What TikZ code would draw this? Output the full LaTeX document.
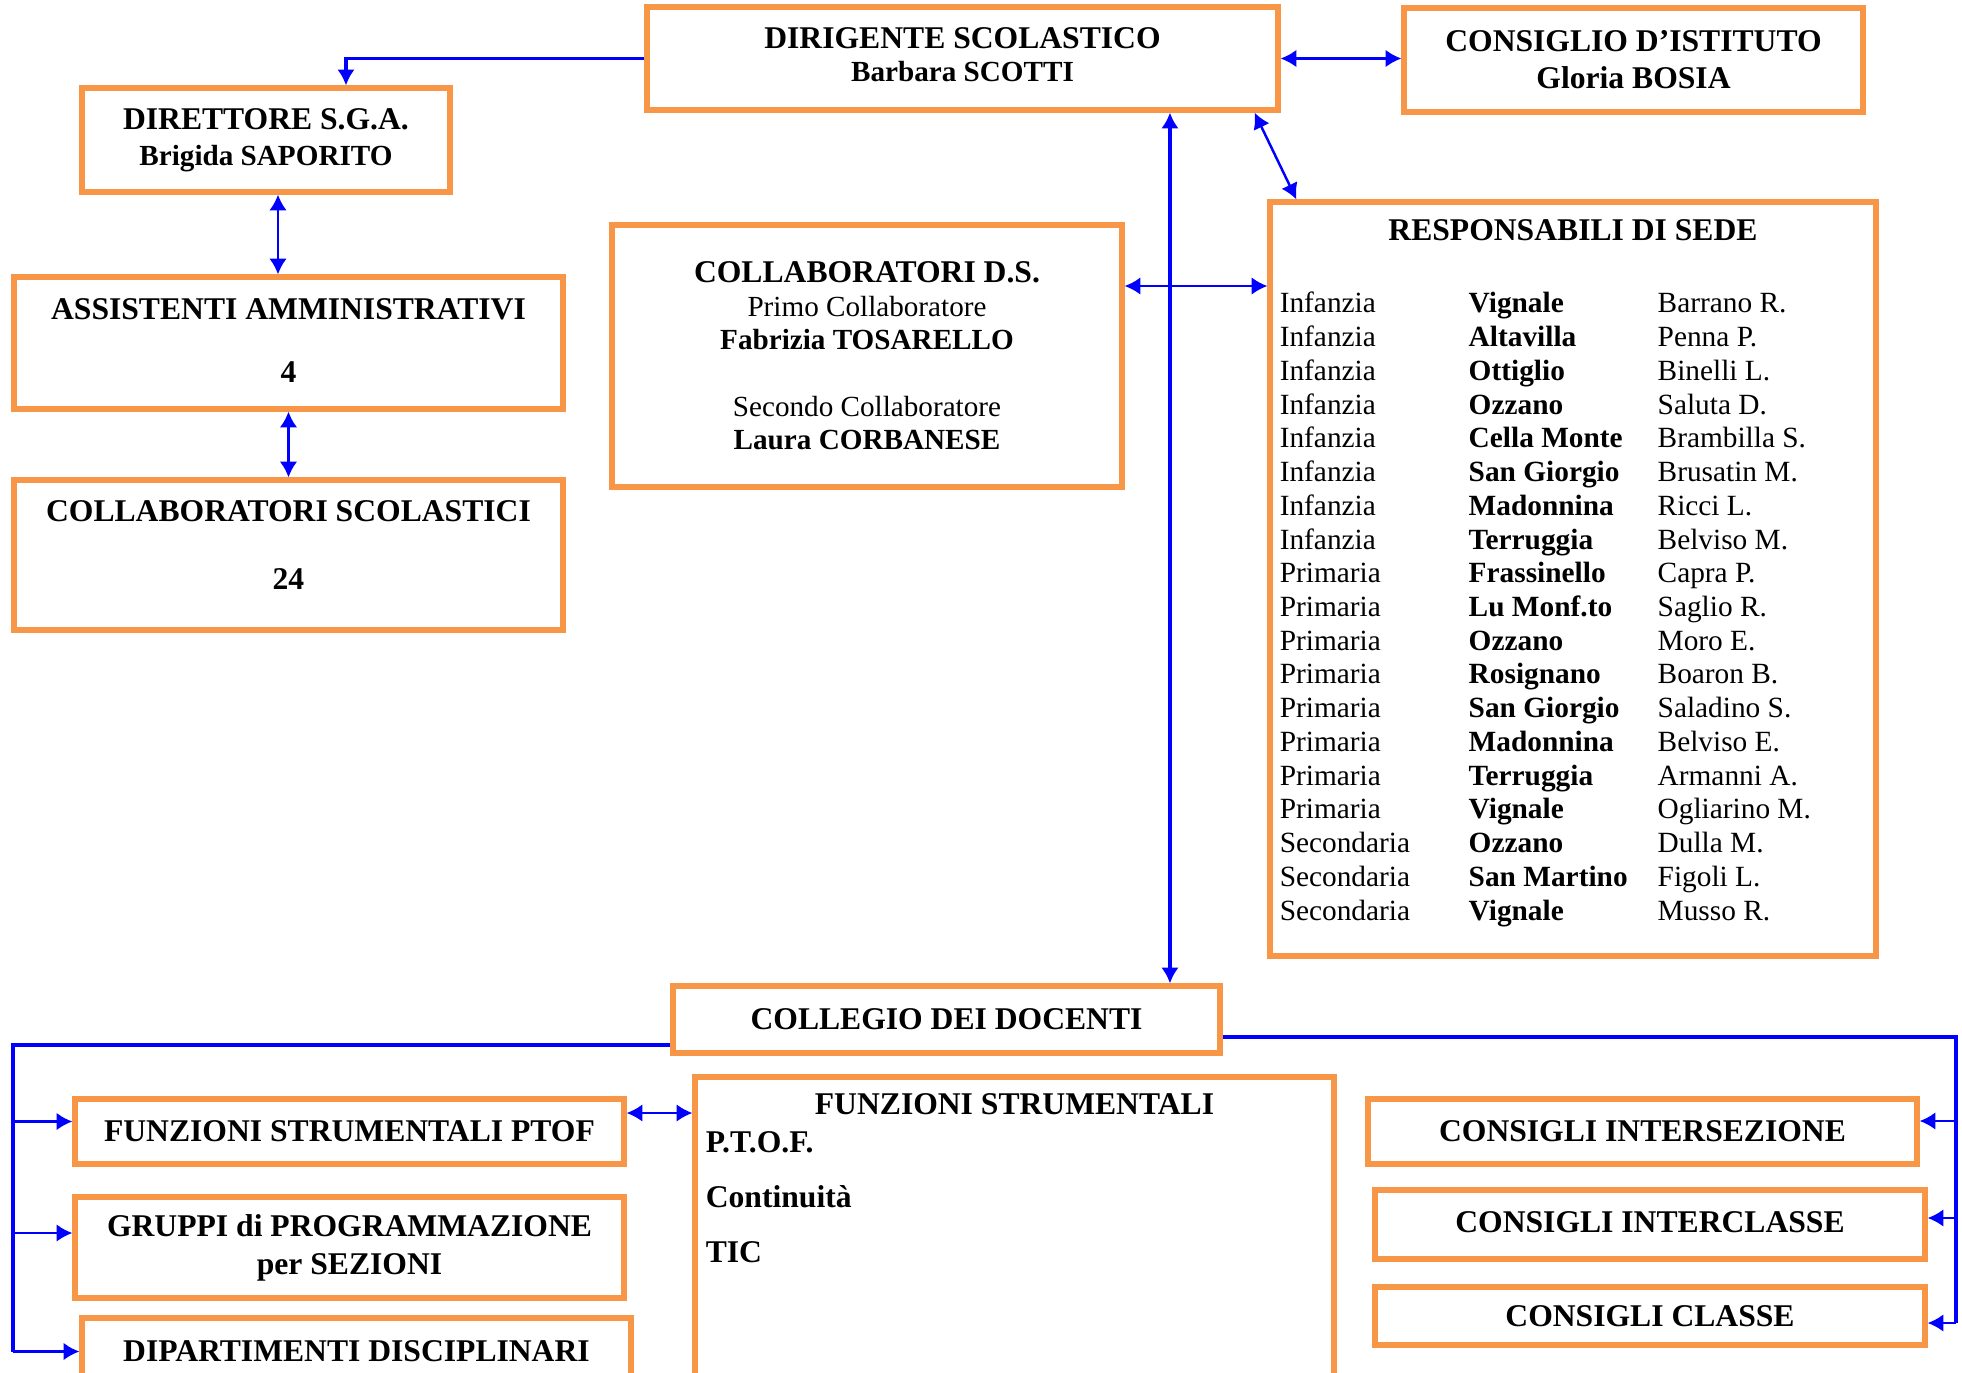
\documentclass[tikz,border=0pt]{standalone}
\usepackage{fontspec}
\setmainfont{Liberation Serif}
\usepackage{array}
\usetikzlibrary{positioning,arrows.meta}
\definecolor{boxorange}{RGB}{247,150,70}
\definecolor{linkblue}{RGB}{0,0,255}
\tikzstyle{box} = [rectangle, draw=boxorange, line width=3pt, inner sep=0pt, align=center, font=\fontsize{18}{21}\selectfont\bfseries]
\tikzstyle{label_big} = [inner sep=0pt, font=\fontsize{18}{21}\selectfont\bfseries]
\tikzstyle{arrow} = [draw=linkblue, line width=1.4pt, ->, >={Latex[length=9pt,width=10pt]}]
\tikzstyle{arrow_both} = [arrow, <->]
\tikzstyle{line_thick} = [draw=linkblue, line width=2.1pt]

\begin{document}
\begin{tikzpicture}[x=0.02cm, y=-0.02cm]
        \useasboundingbox (0,0) rectangle (1962,1373);

        \node (dirigente) [box, minimum width=12.62cm, minimum height=2.06cm] at (962.5,58.5) {DIRIGENTE SCOLASTICO\\[-2.5pt]{\fontsize{16.6}{21}\selectfont Barbara SCOTTI}\rule[-0.16cm]{0pt}{0.16cm}};
        \node (consiglio) [box, minimum width=9.18cm, minimum height=2.08cm] at (1633.5,60) {CONSIGLIO D’ISTITUTO\\Gloria BOSIA};
        \node (direttore) [box, minimum width=7.36cm, minimum height=2.08cm] at (266,140) {DIRETTORE S.G.A.\\[-0.6pt]{\fontsize{16.6}{21}\selectfont Brigida SAPORITO}};
        \node (assistenti) [box, minimum width=10.98cm, minimum height=2.64cm] at (288.5,343) {ASSISTENTI AMMINISTRATIVI\\[15pt]4\rule[-0.1cm]{0pt}{0.1cm}};
        \node (collscol) [box, minimum width=10.98cm, minimum height=3cm] at (288.5,555) {COLLABORATORI SCOLASTICI\\[18pt]24\rule[-0.4cm]{0pt}{0.4cm}};
        \node (collds) [box, minimum width=10.2cm, minimum height=5.24cm, font=\fontsize{16.6}{19}\selectfont] at (867,356) {{\fontsize{18}{19}\selectfont\bfseries COLLABORATORI D.S.}\\Primo Collaboratore\\\textbf{Fabrizia TOSARELLO}\\[19pt]Secondo Collaboratore\\\textbf{Laura CORBANESE}};

        \node (resp) [box, minimum width=12.12cm, minimum height=15.08cm] at (1573,579) {};
        \node (resp_title) [label_big, below=0.4cm of resp.north] {RESPONSABILI DI SEDE};
        \node (resp_table) [anchor=north west, inner sep=0pt, font=\fontsize{16.7}{19.2}\selectfont] at ([xshift=0.24cm, yshift=-1.79cm]resp.north west) {%
            \begin{tabular}{@{}p{3.78cm}@{}>{\bfseries}p{3.78cm}@{}l@{}}
            Infanzia & Vignale & Barrano R.\\
            Infanzia & Altavilla & Penna P.\\
            Infanzia & Ottiglio & Binelli L.\\
            Infanzia & Ozzano & Saluta D.\\
            Infanzia & Cella Monte & Brambilla S.\\
            Infanzia & San Giorgio & Brusatin M.\\
            Infanzia & Madonnina & Ricci L.\\
            Infanzia & Terruggia & Belviso M.\\
            Primaria & Frassinello & Capra P.\\
            Primaria & Lu Monf.to & Saglio R.\\
            Primaria & Ozzano & Moro E.\\
            Primaria & Rosignano & Boaron B.\\
            Primaria & San Giorgio & Saladino S.\\
            Primaria & Madonnina & Belviso E.\\
            Primaria & Terruggia & Armanni A.\\
            Primaria & Vignale & Ogliarino M.\\
            Secondaria & Ozzano & Dulla M.\\
            Secondaria & San Martino & Figoli L.\\
            Secondaria & Vignale & Musso R.
            \end{tabular}};

        \node (collegio) [box, minimum width=10.94cm, minimum height=1.34cm] at (946.5,1019.5) {COLLEGIO DEI DOCENTI};
        \node (fptof) [box, minimum width=10.98cm, minimum height=1.3cm] at (349.5,1131.5) {FUNZIONI STRUMENTALI PTOF};
        \node (gruppi) [box, minimum width=10.98cm, minimum height=2.02cm] at (349.5,1247.5) {GRUPPI di PROGRAMMAZIONE\\[0.5pt]per SEZIONI};
        \node (dipart) [box, minimum width=10.98cm, minimum height=1.34cm] at (356.5,1351.5) {DIPARTIMENTI DISCIPLINARI};

        \node (fstrum) [box, minimum width=12.78cm, minimum height=6.46cm] at (1014.5,1238.5) {};
        \node (fstrum_title) [label_big, below=0.38cm of fstrum.north] {FUNZIONI STRUMENTALI};
        \node (fstrum_list) [anchor=north west, align=left, inner sep=0pt, font=\fontsize{18}{31.2}\selectfont\bfseries] at ([xshift=0.26cm, yshift=-1.14cm]fstrum.north west) {P.T.O.F.\\Continuità\\TIC};

        \node (intersez) [box, minimum width=10.98cm, minimum height=1.3cm] at (1642.5,1131.5) {CONSIGLI INTERSEZIONE};
        \node (interclasse) [box, minimum width=11cm, minimum height=1.38cm] at (1650,1224.5) {CONSIGLI INTERCLASSE\rule[-0.1cm]{0pt}{0.1cm}};
        \node (classe) [box, minimum width=11cm, minimum height=1.16cm] at (1650,1316) {CONSIGLI CLASSE};

        \coordinate (dir_out) at ([xshift=0.24cm]direttore.south);
        \coordinate (dirigente_down) at ([xshift=4.15cm]dirigente.south);
        \coordinate (collds_out) at ([yshift=1.4cm]collds.east);
        \coordinate (fptof_out) at ([yshift=0.37cm]fptof.east);
        \coordinate (bus_left) at (13,1045);
        \coordinate (bus_right) at (1956,1037);
        \coordinate (fptof_in) at ([yshift=0.2cm]fptof.west);
        \coordinate (gruppi_in) at ([yshift=0.29cm]gruppi.west);
        \coordinate (intersez_in) at ([yshift=0.21cm]intersez.east);
        \coordinate (interclasse_in) at ([yshift=0.13cm]interclasse.east);
        \coordinate (classe_in) at ([yshift=-0.14cm]classe.east);

        \draw [arrow, line width=1.8pt] (dirigente.west) -| ([xshift=1.6cm]direttore.north);
        \draw [arrow_both] (dirigente.east) -- (dirigente.east -| consiglio.west);
        \draw [arrow_both] (dir_out) -- (dir_out |- assistenti.north);
        \draw [arrow_both] (assistenti.south) -- (collscol.north);
        \draw [arrow_both, line width=1.8pt] (dirigente_down) -- (dirigente_down |- collegio.north);
        \draw [arrow_both] (collds_out) -- (collds_out -| resp.west);
        \draw [arrow_both] ([xshift=-0.52cm]dirigente.south east) -- ([xshift=0.58cm]resp.north west);
        \draw [arrow_both] (fptof_out) -- (fptof_out -| fstrum.west);

        \draw [line_thick] (collegio.west |- bus_left) -- (bus_left) -- (bus_left |- dipart.west);
        \draw [arrow] (bus_left |- fptof_in) -- (fptof_in);
        \draw [arrow] (bus_left |- gruppi_in) -- (gruppi_in);
        \draw [arrow] (bus_left |- dipart.west) -- (dipart.west);

        \draw [line_thick] (collegio.east |- bus_right) -- (bus_right) -- (bus_right |- classe_in);
        \draw [arrow] (bus_right |- intersez_in) -- (intersez_in);
        \draw [arrow] (bus_right |- interclasse_in) -- (interclasse_in);
        \draw [arrow] (bus_right |- classe_in) -- (classe_in);
    \end{tikzpicture}
\end{document}
